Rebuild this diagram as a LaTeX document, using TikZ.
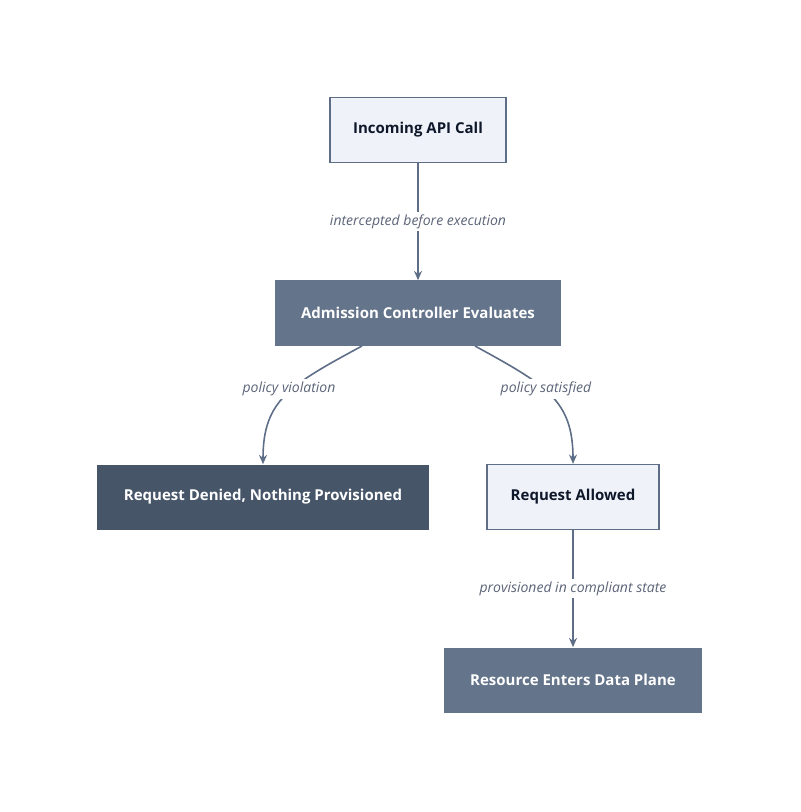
\documentclass[tikz,border=0pt]{standalone}
\usepackage{fontspec}
\setmainfont{Open Sans}
\usetikzlibrary{positioning}
\usetikzlibrary{arrows.meta}

\definecolor{lightbox}{HTML}{EFF3F9}
\definecolor{midbox}{HTML}{64748B}
\definecolor{darkbox}{HTML}{475569}
\definecolor{edgecol}{HTML}{5F6E87}
\definecolor{textdark}{HTML}{0F172A}
\definecolor{labelcol}{HTML}{5B6478}

\begin{document}
\begin{tikzpicture}
		[x=0.75pt, y=-0.75pt,
		box/.style={rectangle, minimum height=48.75pt, font=\fontsize{11.25}{13}\selectfont\bfseries},
		light/.style={box, fill=lightbox, draw=edgecol, line width=1pt, text=textdark},
		mid/.style={box, fill=midbox, text=white},
		dark/.style={box, fill=darkbox, text=white},
		arrow/.style={draw=edgecol, line width=1.2pt, -{Stealth[length=7pt, width=6pt]}},
		lab/.style={fill=white, text=labelcol, font=\fontsize{10.5}{12}\selectfont\itshape, inner sep=2pt}]
		\useasboundingbox (0,0) rectangle (800,812);

		\node[light, minimum width=132pt] (call) at (418,130) {Incoming API Call};
		\node[mid, minimum width=215pt] (admit) at (418,313) {Admission Controller Evaluates};
		\node[dark, minimum width=249pt] (deny) at (263,497) {Request Denied, Nothing Provisioned};
		\node[light, minimum width=129pt] (allow) at (573,497) {Request Allowed};
		\node[mid, minimum width=193pt] (res) at (573,680) {Resource Enters Data Plane};

		\coordinate (admitL) at (362,346);
		\coordinate (admitR) at (475,346);

		\draw[arrow] (call) -- node[lab] {intercepted before execution} (admit);
		\draw[arrow] (admitL) .. controls (290,385) and (263,400) .. (deny.north);
		\draw[arrow] (admitR) .. controls (546,385) and (573,400) .. (allow.north);
		\draw[arrow] (allow) -- node[lab] {provisioned in compliant state} (res);

		\node[lab] (violate) at (289,389) {policy violation};
		\node[lab] (satisfy) at (546,389) {policy satisfied};
	\end{tikzpicture}
\end{document}
